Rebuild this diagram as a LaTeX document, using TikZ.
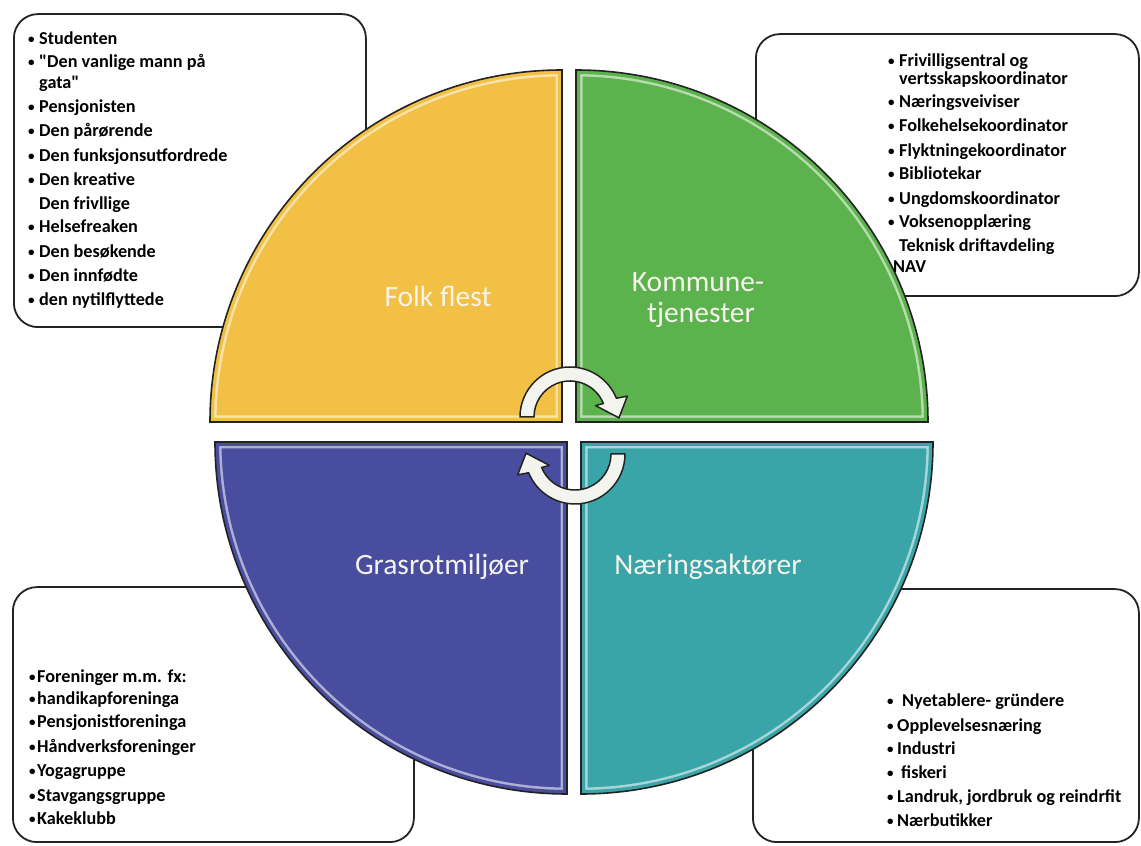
\documentclass[tikz,border=0pt]{standalone}
\usepackage{fontspec}
\setmainfont{Carlito}
\definecolor{qyellow}{RGB}{242,192,68}
\definecolor{qgreen}{RGB}{92,178,76}
\definecolor{qblue}{RGB}{73,77,160}
\definecolor{qteal}{RGB}{58,165,168}
\definecolor{lblcol}{RGB}{244,244,236}
\definecolor{arrowfill}{RGB}{244,244,238}
\definecolor{edgecol}{RGB}{35,35,35}
\newcommand\bl[1]{\makebox[#1][l]{\raisebox{1.2pt}{\fontsize{13}{13}\selectfont\textbullet}}}
\newcommand\quadrantshape[2]{% color, path
  \begin{scope}
    \clip #2;
    \fill[#1] #2;
    \draw[#1!45!white, line width=13pt] #2;
    \draw[#1, line width=8pt] #2;
  \end{scope}
  \draw[quadedge] #2;}
\begin{document}
\begin{tikzpicture}[x=1pt,y=1pt,
  listbox/.style={draw=edgecol, line width=1.8pt, rounded corners=24pt, fill=white, inner sep=0pt, anchor=south west},
  item/.style={anchor=base west, inner sep=0pt, font=\bfseries\fontsize{18.2}{21}\selectfont},
  qlabel/.style={anchor=base, inner sep=0pt, text=lblcol, font=\fontsize{29.5}{32}\selectfont},
  quadedge/.style={draw=edgecol, line width=1.6pt},
  cyclearrow/.style={fill=arrowfill, draw=edgecol, line width=1.5pt, line join=round}]
\useasboundingbox (0,0) rectangle (1141,846);
\fill[white] (0,0) rectangle (1141,846);

% list boxes (behind the circle)
\node[listbox, minimum width=352pt, minimum height=313pt] (boxtl) at (13,518) {};
\node[listbox, minimum width=383pt, minimum height=262pt] (boxtr) at (755,549) {};
\node[listbox, minimum width=401pt, minimum height=255pt] (boxbl) at (12,3) {};
\node[listbox, minimum width=386pt, minimum height=253pt] (boxbr) at (752,3) {};

% quadrants
\quadrantshape{qyellow}{(562,424) -- (210,424) arc (180:90:352) -- cycle}
\quadrantshape{qgreen}{(576,424) -- (576,776) arc (90:0:352) -- cycle}
\quadrantshape{qblue}{(567,404) -- (567,52) arc (270:180:352) -- cycle}
\quadrantshape{qteal}{(581,404) -- (933,404) arc (0:-90:352) -- cycle}

% quadrant labels
\node[qlabel] (lfolk) at (438,539) {Folk flest};
\node[qlabel] (lkom1) at (698,554) {Kommune-};
\node[qlabel] (lkom2) at (701,523) {tjenester};
\node[qlabel] (lgras) at (442,271) {Grasrotmiljøer};
\node[qlabel] (lnaer) at (708,271) {Næringsaktører};

% cycle arrows
\begin{scope}[shift={(570,429)}]
  \draw[cyclearrow] (180:50) arc (180:22:50) -- (20:61) -- (-1:49) -- (24:28) -- (22:36) arc (22:180:36) -- cycle;
\end{scope}
\begin{scope}[shift={(575,392)}]
  \draw[cyclearrow] (0:50) arc (0:-158:50) -- (-160:61) -- (-181:49) -- (-156:28) -- (-158:36) arc (-158:0:36) -- cycle;
\end{scope}

% top-left list
\node[item] (tl1) at (28,801) {\bl{11pt}Studenten};
\node[item] (tl2) at (28,778) {\bl{11pt}\textquotedbl Den vanlige mann på};
\node[item] (tl3) at (39,757) {gata\textquotedbl};
\node[item] (tl4) at (28,733) {\bl{11pt}Pensjonisten};
\node[item] (tl5) at (28,709) {\bl{11pt}Den pårørende};
\node[item] (tl6) at (28,684) {\bl{11pt}Den funksjonsutfordrede};
\node[item] (tl7) at (28,660) {\bl{11pt}Den kreative};
\node[item] (tl8) at (39,636) {Den frivllige};
\node[item] (tl9) at (28,613) {\bl{11pt}Helsefreaken};
\node[item] (tl10) at (28,588) {\bl{11pt}Den besøkende};
\node[item] (tl11) at (28,564) {\bl{11pt}Den innfødte};
\node[item] (tl12) at (28,540) {\bl{11pt}den nytilflyttede};

% top-right list
\node[item] (tr1) at (888,779) {\bl{11pt}Frivilligsentral og};
\node[item] (tr2) at (899,761) {vertsskapskoordinator};
\node[item] (tr3) at (888,738) {\bl{11pt}Næringsveiviser};
\node[item] (tr4) at (888,714) {\bl{11pt}Folkehelsekoordinator};
\node[item] (tr5) at (888,689) {\bl{11pt}Flyktningekoordinator};
\node[item] (tr6) at (888,666) {\bl{11pt}Bibliotekar};
\node[item] (tr7) at (888,641) {\bl{11pt}Ungdomskoordinator};
\node[item] (tr8) at (888,618) {\bl{11pt}Voksenopplæring};
\node[item] (tr9) at (899,594) {Teknisk driftavdeling};
\node[item] (tr10) at (893,573) {NAV};

% bottom-left list
\node[item] (bl1) at (29,163) {\bl{8pt}Foreninger m.m. fx:};
\node[item] (bl2) at (29,141) {\bl{8pt}handikapforeninga};
\node[item] (bl3) at (29,118) {\bl{8pt}Pensjonistforeninga};
\node[item] (bl4) at (29,93) {\bl{8pt}Håndverksforeninger};
\node[item] (bl5) at (29,69) {\bl{8pt}Yogagruppe};
\node[item] (bl6) at (29,44) {\bl{8pt}Stavgangsgruppe};
\node[item] (bl7) at (29,21) {\bl{8pt}Kakeklubb};

% bottom-right list
\node[item] (br1) at (887,139) {\bl{15pt}Nyetablere- gründere};
\node[item] (br2) at (887,114) {\bl{10pt}Opplevelsesnæring};
\node[item] (br3) at (887,91) {\bl{10pt}Industri};
\node[item] (br4) at (887,67) {\bl{14pt}fiskeri};
\node[item] (br5) at (887,43) {\bl{10pt}Landruk, jordbruk og reindrfit};
\node[item] (br6) at (887,19) {\bl{10pt}Nærbutikker};
\end{tikzpicture}
\end{document}
